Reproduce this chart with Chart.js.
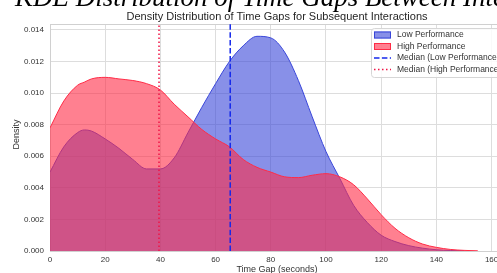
<!DOCTYPE html>
<html><head><meta charset="utf-8">
<script src="https://cdn.jsdelivr.net/npm/chart.js@4/dist/chart.umd.min.js"></script>
<style>
html,body{margin:0;padding:0;overflow:hidden;background:#fff}
#wrap{position:relative;width:505px;height:273px}
</style>
</head><body>
<div id="wrap"><canvas id="c"></canvas></div>
<script>
// ---- data ----
const gapSeconds = [0,5,10,12.5,15,20,25,30,35,40,45,50,55,60,65,70,75,80,85,90,95,100,105,110,115,120,125,130,135,140,145,150,155];
const lowPerformance = [0.0050,0.0066,0.0075,0.00767,0.0076,0.0071,0.0065,0.0058,0.0052,0.0052,0.0059,0.0075,0.0091,0.0106,0.0120,0.0130,0.0136,0.0135,0.0126,0.0108,0.0085,0.0063,0.0046,0.0029,0.0018,0.0010,0.0006,0.00034,0.00018,0.00008,0.00003,0.00001,null];
const highPerformance = [0.0078,0.0095,0.0105,0.0107,0.0109,0.0110,0.0109,0.0108,0.0106,0.0102,0.0093,0.0085,0.0077,0.0071,0.0066,0.0058,0.0053,0.0050,0.0047,0.00465,0.0048,0.0049,0.0047,0.0042,0.0033,0.0023,0.00144,0.00084,0.00044,0.00023,0.0001,0.00004,0.00001];
const medianLow = 65.3;
const medianHigh = 39.5;
const xTicks = [0,20,40,60,80,100,120,140,160];
const yTicks = [0,0.002,0.004,0.006,0.008,0.010,0.012,0.014];
const xMax = 164.5;
const yMax = 0.01438;
const legendLabels = ['Low Performance','High Performance','Median (Low Performance)','Median (High Performance)'];
const mainTitle = 'KDE Distribution of Time Gaps Between Interactions';
const subTitle = 'Density Distribution of Time Gaps for Subsequent Interactions';
const xTitle = 'Time Gap (seconds)';
const yTitle = 'Density';

const BLUE = 'rgb(57,70,217)', BLUE_F = 'rgba(57,70,217,0.6)';
const RED = 'rgb(255,43,70)', RED_F = 'rgba(255,43,70,0.6)';
const MED_BLUE = 'rgb(20,40,235)', MED_RED = 'rgb(240,20,70)';
const TXT = '#333333';

const toPts = arr => gapSeconds.map((x,i)=>({x, y: arr[i]})).filter(p=>p.y!==null);

const deco = {
  id:'deco',
  beforeDatasetsDraw(chart){
    const {ctx, chartArea:a} = chart;
    ctx.save();
    ctx.strokeStyle = '#d0d0d0'; ctx.lineWidth = 1;
    ctx.beginPath(); ctx.moveTo(a.left, a.top+0.5); ctx.lineTo(a.right, a.top+0.5); ctx.stroke();
    ctx.restore();
  },
  afterDraw(chart){
    const {ctx, chartArea:a} = chart;
    ctx.save();
    // main title (italic serif, clipped at top)
    ctx.fillStyle = '#000';
    let f = 30;
    ctx.font = 'italic '+f+'px "Liberation Serif"';
    const w = ctx.measureText('KDE Distribution of Time Gaps Between ').width;
    f = f*448/w;
    ctx.font = 'italic '+f.toFixed(2)+'px "Liberation Serif"';
    ctx.textAlign='left'; ctx.textBaseline='alphabetic';
    ctx.fillText(mainTitle, 15, 6);
    // subtitle
    ctx.fillStyle = '#262626';
    ctx.font = '11px "Liberation Sans"';
    ctx.textAlign='center'; ctx.textBaseline='middle';
    ctx.fillText(subTitle, (a.left+a.right)/2, 17);
    // axis titles
    ctx.fillStyle = TXT;
    ctx.font = '9px "Liberation Sans"';
    ctx.fillText(xTitle, (a.left+a.right)/2, 270);
    ctx.save();
    ctx.translate(17, (a.top+a.bottom)/2 - 3);
    ctx.rotate(-Math.PI/2);
    ctx.fillText(yTitle, 0, 0);
    ctx.restore();
    // legend
    const lx=371, ly=28, lw=140, lh=49;
    ctx.beginPath();
    ctx.roundRect(lx+0.5, ly+0.5, lw, lh, 3);
    ctx.fillStyle='rgba(255,255,255,0.85)'; ctx.fill();
    ctx.strokeStyle='#d6d6d6'; ctx.lineWidth=1; ctx.stroke();
    const rows=[35,46.5,58,69.5];
    const sx=374, sw=17;
    ctx.textAlign='left'; ctx.textBaseline='middle';
    ctx.font='8.5px "Liberation Sans"';
    ctx.fillStyle=BLUE_F; ctx.fillRect(sx, rows[0]-3.5, sw, 7);
    ctx.strokeStyle=BLUE; ctx.strokeRect(sx+0.5, rows[0]-3, sw-1, 6);
    ctx.fillStyle=RED_F; ctx.fillRect(sx, rows[1]-3.5, sw, 7);
    ctx.strokeStyle=RED; ctx.strokeRect(sx+0.5, rows[1]-3, sw-1, 6);
    ctx.lineWidth=1.5;
    ctx.setLineDash([5.5,2.4]); ctx.strokeStyle=MED_BLUE;
    ctx.beginPath(); ctx.moveTo(sx, rows[2]); ctx.lineTo(sx+sw, rows[2]); ctx.stroke();
    ctx.setLineDash([1.5,2.5]); ctx.strokeStyle=MED_RED;
    ctx.beginPath(); ctx.moveTo(sx, rows[3]); ctx.lineTo(sx+sw, rows[3]); ctx.stroke();
    ctx.setLineDash([]);
    ctx.fillStyle=TXT;
    legendLabels.forEach((t,i)=>ctx.fillText(t, 397, rows[i]));
    ctx.restore();
  }
};

new Chart(document.getElementById('c'), {
  type:'line',
  data:{
    datasets:[
      {label:legendLabels[0], data:toPts(lowPerformance), borderColor:BLUE, backgroundColor:BLUE_F, borderWidth:1, fill:'origin', pointRadius:0, cubicInterpolationMode:'monotone', order:3},
      {label:legendLabels[1], data:toPts(highPerformance), borderColor:RED, backgroundColor:RED_F, borderWidth:1, fill:'origin', pointRadius:0, cubicInterpolationMode:'monotone', order:2},
      {label:legendLabels[2], data:[{x:medianLow,y:0},{x:medianLow,y:yMax}], borderColor:MED_BLUE, borderWidth:1.5, borderDash:[5.5,2.4], fill:false, pointRadius:0, order:1},
      {label:legendLabels[3], data:[{x:medianHigh,y:0},{x:medianHigh,y:yMax}], borderColor:MED_RED, borderWidth:1.5, borderDash:[1.5,2.5], fill:false, pointRadius:0, order:0}
    ]
  },
  options:{
    responsive:true, maintainAspectRatio:false, animation:false, devicePixelRatio:1,
    layout:{padding:{left:0,right:1,top:24,bottom:0}},
    plugins:{legend:{display:false}, tooltip:{enabled:false}, title:{display:false}},
    scales:{
      x:{type:'linear', min:0, max:xMax,
        afterBuildTicks:s=>{s.ticks = xTicks.map(v=>({value:v}));},
        afterFit:s=>{s.height=22;},
        ticks:{padding:4, color:TXT, font:{family:'Liberation Sans', size:8}, callback:v=>String(v), maxRotation:0, autoSkip:false},
        grid:{color:'#dddddd', lineWidth:1, drawTicks:false},
        border:{display:true, color:'#d0d0d0', width:1}
      },
      y:{type:'linear', min:0, max:yMax,
        afterBuildTicks:s=>{s.ticks = yTicks.map(v=>({value:v}));},
        afterFit:s=>{s.width=50;},
        ticks:{padding:6, color:TXT, font:{family:'Liberation Sans', size:8}, callback:v=>v.toFixed(3), autoSkip:false},
        grid:{color:'#dddddd', lineWidth:1, drawTicks:false},
        border:{display:true, color:'#d0d0d0', width:1}
      }
    }
  },
  plugins:[deco]
});
</script>
</body></html>
